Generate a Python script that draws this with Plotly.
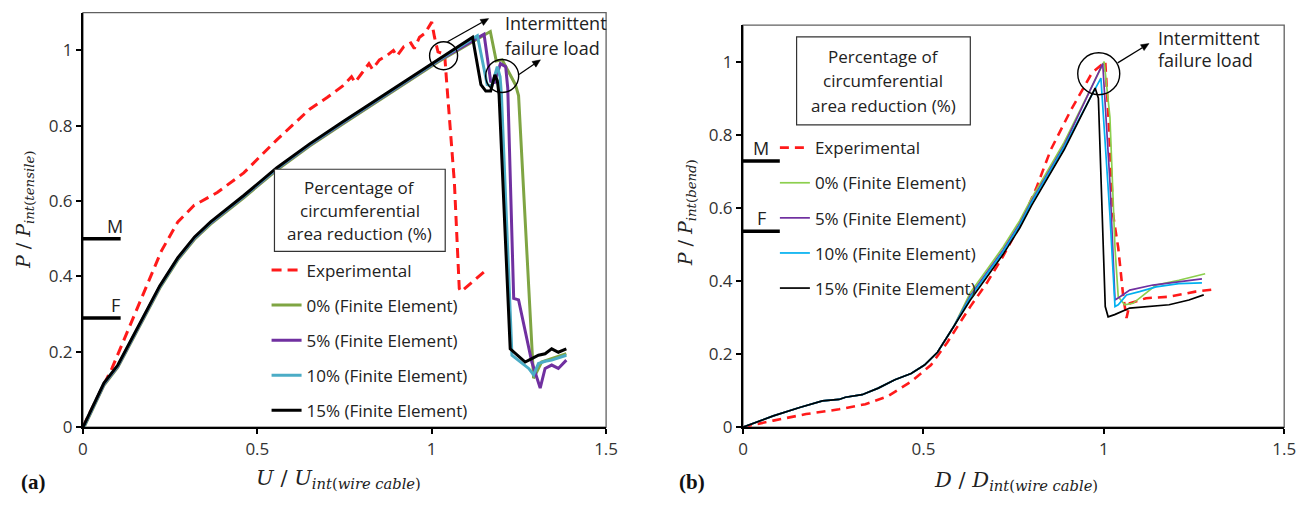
import math
import plotly.graph_objects as go

W, H = 1311, 507

# ---------------- data: (a) tensile ----------------
a_exp_x = [0, 0.022, 0.083, 0.130, 0.178, 0.225, 0.272, 0.319, 0.385, 0.461, 0.555, 0.650, 0.700, 0.744,
           0.77, 0.78, 0.80, 0.82, 0.83, 0.85, 0.87, 0.89, 0.90, 0.92, 0.94, 0.95, 0.965, 0.98, 1.00,
           1.008, 1.018, 1.037, 1.042, 1.056, 1.065, 1.079, 1.084, 1.155]
a_exp_y = [0, 0.043, 0.156, 0.260, 0.364, 0.468, 0.545, 0.589, 0.623, 0.675, 0.762, 0.844, 0.875, 0.905,
           0.93, 0.915, 0.94, 0.965, 0.95, 0.975, 0.985, 1.0, 0.985, 1.01, 1.02, 1.005, 1.035, 1.045, 1.075,
           1.035, 0.996, 0.99, 0.926, 0.771, 0.649, 0.368, 0.36, 0.416]

a_rise_x = [0, 0.03, 0.06, 0.10, 0.14, 0.178, 0.22, 0.272, 0.32, 0.366, 0.461, 0.555, 0.65, 0.744, 0.84, 0.933, 1.018]
a_rise_y = [0, 0.06, 0.117, 0.165, 0.235, 0.303, 0.375, 0.450, 0.505, 0.545, 0.615, 0.688, 0.752, 0.810, 0.868, 0.924, 0.975]

a_fe0_x = a_rise_x + [1.168, 1.185, 1.202, 1.24, 1.249, 1.292, 1.315, 1.344, 1.386]
a_fe0_y = [v - 0.006 for v in a_rise_y] + [1.050, 0.972, 0.975, 0.909, 0.88, 0.130, 0.173, 0.182, 0.195]
a_fe5_x = a_rise_x + [1.150, 1.169, 1.180, 1.197, 1.212, 1.218, 1.235, 1.249, 1.287, 1.311, 1.325, 1.344, 1.363, 1.386]
a_fe5_y = [v - 0.003 for v in a_rise_y] + [1.043, 0.918, 0.915, 0.965, 0.957, 0.90, 0.342, 0.338, 0.173, 0.104, 0.156, 0.165, 0.156, 0.178]
a_fe10_x = a_rise_x + [1.131, 1.159, 1.172, 1.188, 1.196, 1.200, 1.230, 1.249, 1.278, 1.292, 1.306, 1.325, 1.344, 1.386]
a_fe10_y = [v - 0.002 for v in a_rise_y] + [1.039, 0.909, 0.905, 0.957, 0.93, 0.88, 0.191, 0.178, 0.156, 0.139, 0.169, 0.175, 0.178, 0.191]
a_fe15_x = a_rise_x + [1.117, 1.141, 1.155, 1.169, 1.181, 1.188, 1.193, 1.225, 1.240, 1.268, 1.287, 1.306, 1.325, 1.344, 1.363, 1.386]
a_fe15_y = a_rise_y + [1.035, 0.909, 0.892, 0.892, 0.935, 0.92, 0.883, 0.208, 0.195, 0.173, 0.182, 0.191, 0.195, 0.208, 0.199, 0.208]

# ---------------- data: (b) bending ----------------
b_exp_x = [0, 0.02, 0.084, 0.175, 0.266, 0.339, 0.402, 0.466, 0.521, 0.566, 0.630, 0.676, 0.721, 0.767, 0.812,
           0.853, 0.908, 0.967, 1.004, 1.013, 1.026, 1.040, 1.054, 1.063, 1.072, 1.117, 1.181, 1.254, 1.304]
b_exp_y = [0, 0.005, 0.018, 0.036, 0.049, 0.063, 0.085, 0.125, 0.170, 0.232, 0.330, 0.395, 0.468, 0.552, 0.652,
           0.759, 0.866, 0.969, 1.0, 0.848, 0.58, 0.491, 0.357, 0.299, 0.339, 0.353, 0.357, 0.371, 0.377]

b_rise_x = [0, 0.084, 0.157, 0.220, 0.266, 0.284, 0.330, 0.375, 0.421, 0.466, 0.503, 0.539, 0.585, 0.630, 0.676, 0.721, 0.767, 0.80, 0.890]
b_rise_y = [0, 0.031, 0.054, 0.072, 0.076, 0.082, 0.089, 0.107, 0.130, 0.147, 0.170, 0.205, 0.277, 0.348, 0.411, 0.473, 0.545, 0.607, 0.759]

b_fe0_x = b_rise_x + [1.001, 1.017, 1.024, 1.031, 1.040, 1.058, 1.081, 1.117, 1.145, 1.208, 1.281]
b_fe0_y = [v + (0.02 if x > 0.6 else 0) for x, v in zip(b_rise_x, b_rise_y)] + [1.000, 0.848, 0.670, 0.491, 0.357, 0.335, 0.339, 0.366, 0.389, 0.402, 0.420]
b_fe5_x = b_rise_x + [0.997, 1.017, 1.031, 1.045, 1.072, 1.136, 1.208, 1.272]
b_fe5_y = [v + (0.012 if x > 0.6 else 0) for x, v in zip(b_rise_x, b_rise_y)] + [0.995, 0.670, 0.348, 0.357, 0.375, 0.389, 0.397, 0.406]
b_fe10_x = b_rise_x + [0.992, 1.017, 1.031, 1.040, 1.063, 1.099, 1.145, 1.208, 1.272]
b_fe10_y = [v + (0.008 if x > 0.6 else 0) for x, v in zip(b_rise_x, b_rise_y)] + [0.955, 0.580, 0.330, 0.335, 0.362, 0.371, 0.384, 0.393, 0.395]
b_fe15_x = b_rise_x + [0.976, 0.985, 0.995, 1.004, 1.012, 1.030, 1.072, 1.117, 1.181, 1.236, 1.277]
b_fe15_y = b_rise_y + [0.928, 0.90, 0.580, 0.330, 0.302, 0.308, 0.326, 0.330, 0.335, 0.348, 0.362]

# M / F levels
a_levels = {"M": 0.5, "F": 0.29}
b_levels = {"M": 0.728, "F": 0.536}

legend_names = ["Experimental", "0% (Finite Element)", "5% (Finite Element)",
                "10% (Finite Element)", "15% (Finite Element)"]

FONT = "Open Sans"
TXT = "#222222"

def px(xp):
    return xp / W

def py(yp):
    return (H - yp) / H

fig = go.Figure()

a_series = [(a_exp_x, a_exp_y, "#FF1A1A", "10px,6px"),
            (a_fe0_x, a_fe0_y, "#7FA543", "solid"),
            (a_fe5_x, a_fe5_y, "#7030A0", "solid"),
            (a_fe10_x, a_fe10_y, "#4BACC6", "solid"),
            (a_fe15_x, a_fe15_y, "#000000", "solid")]
for i, (xs, ys, c, d) in enumerate(a_series):
    fig.add_trace(go.Scatter(x=xs, y=ys, mode="lines", name=legend_names[i],
                             line=dict(color=c, width=3, dash=d), legend="legend",
                             legendgroup="a%d" % i, xaxis="x", yaxis="y"))

b_series = [(b_exp_x, b_exp_y, "#FF1A1A", "9px,6px", 2.6),
            (b_fe0_x, b_fe0_y, "#8CCF4D", "solid", 1.7),
            (b_fe5_x, b_fe5_y, "#7030A0", "solid", 1.7),
            (b_fe10_x, b_fe10_y, "#00B0F0", "solid", 1.7),
            (b_fe15_x, b_fe15_y, "#000000", "solid", 1.7)]
for i, (xs, ys, c, d, w) in enumerate(b_series):
    fig.add_trace(go.Scatter(x=xs, y=ys, mode="lines", name=legend_names[i],
                             line=dict(color=c, width=w, dash=d), legend="legend2",
                             legendgroup="b%d" % i, xaxis="x2", yaxis="y2"))

for lab, lv in a_levels.items():
    fig.add_trace(go.Scatter(x=[0, 0.108], y=[lv, lv], mode="lines", line=dict(color="black", width=3.5),
                             showlegend=False, xaxis="x", yaxis="y", hoverinfo="skip"))
    fig.add_annotation(x=0.092, y=lv, xref="x", yref="y", text=lab, showarrow=False,
                       yanchor="bottom", yshift=-1, font=dict(family=FONT, size=18, color=TXT))
for lab, lv in b_levels.items():
    fig.add_trace(go.Scatter(x=[0, 0.102], y=[lv, lv], mode="lines", line=dict(color="black", width=3.5),
                             showlegend=False, xaxis="x2", yaxis="y2", hoverinfo="skip"))
    fig.add_annotation(x=0.05, y=lv, xref="x2", yref="y2", text=lab, showarrow=False,
                       yanchor="bottom", yshift=-1, font=dict(family=FONT, size=18, color=TXT))

axis_common = dict(showgrid=False, zeroline=False, showline=True, linecolor="black", linewidth=2,
                   ticks="outside", ticklen=5, tickcolor="black", tickwidth=1.5,
                   tickfont=dict(family=FONT, size=17, color="#333333"))

fig.update_layout(
    width=W, height=H, margin=dict(l=0, r=0, t=0, b=0),
    paper_bgcolor="white", plot_bgcolor="white",
    xaxis=dict(domain=[px(79), px(609)], range=[0, 1.5], tickvals=[0, 0.5, 1, 1.5],
               ticktext=["0", "0.5", "1", "1.5"], anchor="y", **axis_common),
    yaxis=dict(domain=[py(436.7), py(13)], range=[0, 1.1], tickvals=[0, 0.2, 0.4, 0.6, 0.8, 1],
               ticktext=["0", "0.2", "0.4", "0.6", "0.8", "1"], anchor="x", **axis_common),
    xaxis2=dict(domain=[px(747.7), px(1296)], range=[0, 1.5], tickvals=[0, 0.5, 1, 1.5],
                ticktext=["0", "0.5", "1", "1.5"], anchor="y2", **axis_common),
    yaxis2=dict(domain=[py(436.7), py(25.7)], range=[0, 1.1], tickvals=[0, 0.2, 0.4, 0.6, 0.8, 1],
                ticktext=["0", "0.2", "0.4", "0.6", "0.8", "1"], anchor="x2", **axis_common),
    legend=dict(x=px(265), y=py(258), xanchor="left", yanchor="top", bgcolor="rgba(0,0,0,0)",
                font=dict(family=FONT, size=17, color=TXT), traceorder="grouped", tracegroupgap=10),
    legend2=dict(x=px(780), y=py(133), xanchor="left", yanchor="top", bgcolor="rgba(0,0,0,0)",
                 font=dict(family=FONT, size=17, color=TXT), traceorder="grouped", tracegroupgap=10),
)

for xr, yr in (("x domain", "y domain"), ("x2 domain", "y2 domain")):
    fig.add_shape(type="rect", xref=xr, yref=yr, x0=0, x1=1, y0=0, y1=1,
                  line=dict(color="#606060", width=1.3), layer="below")

def title_box(x0, x1, y0, y1):
    fig.add_shape(type="rect", xref="paper", yref="paper", x0=px(x0), x1=px(x1), y0=py(y1), y1=py(y0),
                  line=dict(color="#333333", width=1.2), fillcolor="white")
    lines = ["Percentage of", "circumferential", "area reduction (%)"]
    cx = (x0 + x1) / 2
    h = (y1 - y0)
    for k, t in enumerate(lines):
        yy = y0 + h * (0.22 + 0.28 * k)
        fig.add_annotation(x=px(cx), y=py(yy), xref="paper", yref="paper", text=t, showarrow=False,
                           xanchor="center", yanchor="middle", font=dict(family=FONT, size=17, color=TXT))

title_box(273, 446, 173, 257)
title_box(802, 978, 37.7, 127.7)

def circle(xref, yref, cx, cy, r):
    fig.add_shape(type="circle", xref=xref, yref=yref, xsizemode="pixel", ysizemode="pixel",
                  xanchor=cx, yanchor=cy, x0=-r, x1=r, y0=-r, y1=r,
                  line=dict(color="black", width=1.4))

circle("x", "y", 1.034, 0.986, 14)
circle("x", "y", 1.202, 0.932, 16.5)
circle("x2", "y2", 0.986, 0.967, 21)

def arrow(xh, yh, xt, yt, L=8.0, hw=3.5):
    dx, dy = xh - xt, yh - yt
    n = math.hypot(dx, dy)
    ux, uy = dx / n, dy / n
    bx, by = xh - ux * L, yh - uy * L
    fig.add_shape(type="line", xref="paper", yref="paper", x0=px(xt), y0=py(yt), x1=px(bx), y1=py(by),
                  line=dict(color="black", width=1.3))
    p1 = (bx - uy * hw, by + ux * hw)
    p2 = (bx + uy * hw, by - ux * hw)
    path = "M %f %f L %f %f L %f %f Z" % (px(xh), py(yh), px(p1[0]), py(p1[1]), px(p2[0]), py(p2[1]))
    fig.add_shape(type="path", xref="paper", yref="paper", path=path, fillcolor="black",
                  line=dict(color="black", width=0.5))

arrow(490, 19, 448.3, 42.7)
arrow(542.5, 61.2, 520, 76.7)
arrow(1159, 44.5, 1127.3, 64.3)

def label(xl, yc, t, size=18):
    fig.add_annotation(x=px(xl), y=py(yc), xref="paper", yref="paper", text=t, showarrow=False,
                       xanchor="left", yanchor="middle", font=dict(family=FONT, size=size, color=TXT))

label(505, 24, "Intermittent")
label(505, 49, "failure load")
label(1166, 39.3, "Intermittent")
label(1166, 61.7, "failure load")

SERIF = "DejaVu Serif"
def mtitle(xc, yc, t, size, angle=0):
    fig.add_annotation(x=px(xc), y=py(yc), xref="paper", yref="paper", text=t, showarrow=False,
                       textangle=angle, xanchor="center", yanchor="middle",
                       font=dict(family=SERIF, size=size, color="#222222"))

mtitle(20, 214, "<i>P</i> / <i>P</i><sub><i>int</i>(<i>tensile</i>)</sub>", 19, -90)
mtitle(690, 218, "<i>P</i> / <i>P</i><sub><i>int</i>(<i>bend</i>)</sub>", 19, -90)
mtitle(338, 490, "<i>U</i> / <i>U</i><sub><i>int</i>(<i>wire cable</i>)</sub>", 21)
mtitle(1024, 492, "<i>D</i> / <i>D</i><sub><i>int</i>(<i>wire cable</i>)</sub>", 21)

for xc, t in ((29, "(a)"), (696, "(b)")):
    fig.add_annotation(x=px(xc), y=py(493), xref="paper", yref="paper", text="<b>%s</b>" % t, showarrow=False,
                       xanchor="center", yanchor="middle",
                       font=dict(family="Liberation Serif", size=21, color="#111111"))

fig.write_html("out.html", config={"displayModeBar": False},
               post_script="document.body.style.margin='0';document.body.style.overflow='hidden';")
